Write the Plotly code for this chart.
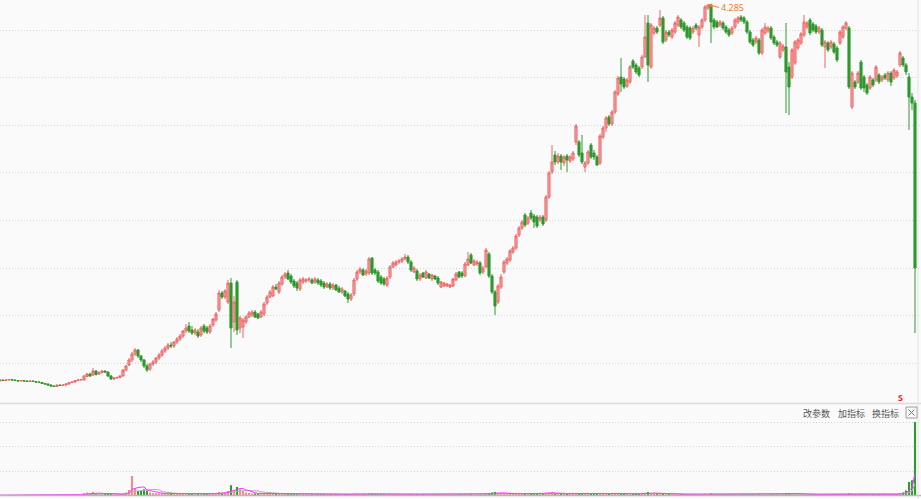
import plotly.graph_objects as go
import pandas as pd

# ---------------- data ----------------
opens = [
    .52, .53, .525, .53, .535, .53, .525, .52, .525, .52,
    .515, .52, .515, .51, .505, .495, .49, .48, .47, .465,
    .48, .475, .48, .49, .505, .51, .525, .53, .53, .565,
    .59, .58, .62, .59, .605, .62, .61, .57, .54, .55,
    .555, .57, .63, .68, .73, .79, .83, .77, .73, .67,
    .64, .69, .71, .75, .78, .82, .85, .88, .87, .91,
    .94, .97, 1.02, 1.07, 1.03, 1.00, 1.01, .98, 1.07, 1.05,
    1.01, 1.08, 1.13, 1.23, 1.40, 1.36, 1.31, 1.50, 1.11, 1.51,
    1.05, 1.06, 1.11, 1.16, 1.18, 1.21, 1.19, 1.16, 1.19, 1.30,
    1.36, 1.37, 1.46, 1.41, 1.49, 1.56, 1.60, 1.57, 1.52, 1.50,
    1.44, 1.51, 1.52, 1.53, 1.53, 1.51, 1.53, 1.52, 1.50, 1.46,
    1.49, 1.45, 1.48, 1.45, 1.41, 1.42, 1.39, 1.34, 1.39, 1.54,
    1.61, 1.63, 1.59, 1.60, 1.75, 1.63, 1.61, 1.56, 1.54, 1.48,
    1.56, 1.66, 1.68, 1.71, 1.72, 1.74, 1.76, 1.71, 1.61, 1.62,
    1.54, 1.60, 1.55, 1.59, 1.54, 1.57, 1.55, 1.46, 1.47, 1.47,
    1.46, 1.47, 1.53, 1.61, 1.60, 1.57, 1.68, 1.78, 1.68, 1.69,
    1.70, 1.61, 1.66, 1.79, 1.57, 1.41, 1.31, 1.46, 1.61, 1.70,
    1.73, 1.81, 1.85, 1.98, 2.05, 2.18, 2.10, 2.20, 2.17, 2.16,
    2.13, 2.16, 2.13, 2.36, 2.61, 2.78, 2.71, 2.77, 2.70, 2.77,
    2.72, 2.74, 2.91, 2.91, 2.80, 2.66, 2.70, 2.88, 2.80, 2.76,
    2.70, 2.96, 3.05, 3.16, 3.09, 3.21, 3.39, 3.56, 3.54, 3.47,
    3.51, 3.72, 3.68, 3.65, 3.66, 3.76, 4.10, 3.66, 4.00, 4.05,
    4.08, 4.15, 3.93, 4.01, 3.96, 4.01, 4.08, 4.13, 4.10, 4.06,
    4.05, 4.01, 4.08, 3.98, 4.06, 4.13, 4.25, 4.28, 4.13, 4.11,
    4.08, 4.10, 4.06, 4.03, 4.00, 4.06, 4.11, 4.16, 4.15, 4.11,
    4.01, 3.93, 3.91, 3.93, 3.80, 4.00, 4.02, 4.05, 3.96, 3.91,
    3.76, 3.83, 3.86, 3.66, 3.56, 3.70, 3.85, 3.90, 3.98, 4.06,
    4.13, 4.09, 4.07, 4.01, 4.03, 3.86, 3.90, 3.86, 3.89, 3.85,
    3.90, 3.96, 4.05, 4.05, 3.26, 3.51, 3.51, 3.71, 3.56, 3.48,
    3.45, 3.53, 3.53, 3.58, 3.53, 3.58, 3.53, 3.60, 3.55, 3.57,
    3.68, 3.75, 3.68, 3.56, 3.36, 3.30,
]

closes = [
    .53, .525, .53, .535, .53, .525, .52, .525, .52, .515,
    .52, .515, .51, .505, .495, .49, .48, .47, .465, .48,
    .475, .48, .49, .505, .51, .525, .53, .535, .57, .59,
    .57, .62, .585, .605, .62, .61, .57, .54, .55, .555,
    .57, .63, .67, .73, .79, .83, .77, .73, .67, .63,
    .69, .71, .75, .78, .82, .85, .88, .87, .91, .94,
    .97, 1.02, 1.05, 1.02, 1.00, 1.03, .97, 1.05, 1.02, 1.01,
    1.07, 1.14, 1.19, 1.40, 1.36, 1.42, 1.50, 1.05, 1.31, 1.03,
    1.15, 1.13, 1.16, 1.20, 1.21, 1.16, 1.15, 1.21, 1.29, 1.36,
    1.41, 1.46, 1.44, 1.50, 1.56, 1.59, 1.54, 1.51, 1.47, 1.45,
    1.53, 1.54, 1.53, 1.54, 1.50, 1.54, 1.50, 1.48, 1.46, 1.49,
    1.45, 1.48, 1.43, 1.41, 1.44, 1.37, 1.34, 1.38, 1.53, 1.61,
    1.64, 1.58, 1.62, 1.74, 1.60, 1.60, 1.52, 1.50, 1.49, 1.55,
    1.66, 1.70, 1.71, 1.72, 1.74, 1.76, 1.71, 1.63, 1.65, 1.54,
    1.58, 1.56, 1.61, 1.55, 1.58, 1.54, 1.50, 1.51, 1.50, 1.49,
    1.48, 1.54, 1.59, 1.56, 1.57, 1.69, 1.74, 1.70, 1.72, 1.71,
    1.60, 1.65, 1.83, 1.57, 1.41, 1.27, 1.47, 1.56, 1.71, 1.74,
    1.82, 1.85, 1.97, 2.05, 2.11, 2.08, 2.15, 2.15, 2.11, 2.07,
    2.16, 2.09, 2.36, 2.60, 2.71, 2.71, 2.77, 2.71, 2.76, 2.73,
    2.76, 2.80, 3.07, 2.78, 2.71, 2.70, 2.81, 2.76, 2.76, 2.68,
    2.97, 3.05, 3.15, 3.09, 3.21, 3.41, 3.55, 3.49, 3.46, 3.53,
    3.66, 3.66, 3.61, 3.58, 3.76, 3.96, 3.68, 4.08, 4.05, 4.01,
    4.15, 3.91, 4.01, 3.98, 4.03, 4.10, 4.16, 4.06, 4.03, 3.96,
    3.95, 4.05, 4.05, 4.06, 4.13, 4.26, 4.28, 4.11, 4.06, 4.06,
    4.11, 4.05, 4.01, 3.98, 4.05, 4.13, 4.15, 4.13, 4.11, 4.01,
    3.91, 3.88, 3.95, 3.80, 4.03, 4.06, 4.05, 3.95, 3.90, 3.88,
    3.90, 3.87, 3.61, 3.46, 3.83, 3.91, 3.93, 3.99, 4.11, 4.10,
    4.00, 4.03, 4.01, 4.05, 3.88, 3.91, 3.83, 3.91, 3.81, 3.73,
    4.01, 4.06, 4.10, 3.46, 3.60, 3.46, 3.60, 3.45, 3.45, 3.40,
    3.56, 3.48, 3.66, 3.51, 3.56, 3.55, 3.60, 3.51, 3.63, 3.61,
    3.80, 3.68, 3.61, 3.36, 3.30, 1.65,
]

highs = [
    .54, .535, .535, .54, .54, .535, .53, .53, .53, .525,
    .525, .525, .52, .515, .51, .50, .495, .485, .475, .485,
    .485, .485, .495, .51, .515, .53, .535, .54, .58, .60,
    .60, .65, .63, .615, .63, .625, .615, .58, .56, .565,
    .58, .64, .68, .75, .81, .85, .84, .78, .74, .69,
    .70, .73, .76, .80, .84, .87, .90, .91, .92, .96,
    .99, 1.03, 1.09, 1.11, 1.07, 1.05, 1.04, 1.07, 1.09, 1.07,
    1.09, 1.15, 1.21, 1.43, 1.42, 1.44, 1.53, 1.55, 1.37, 1.53,
    1.17, 1.15, 1.18, 1.22, 1.23, 1.23, 1.20, 1.23, 1.31, 1.38,
    1.43, 1.48, 1.49, 1.52, 1.58, 1.61, 1.63, 1.59, 1.54, 1.52,
    1.55, 1.56, 1.55, 1.56, 1.55, 1.56, 1.55, 1.54, 1.52, 1.51,
    1.51, 1.50, 1.49, 1.47, 1.46, 1.43, 1.41, 1.40, 1.55, 1.63,
    1.66, 1.65, 1.64, 1.76, 1.76, 1.65, 1.63, 1.58, 1.56, 1.57,
    1.68, 1.72, 1.73, 1.74, 1.76, 1.79, 1.78, 1.73, 1.67, 1.64,
    1.60, 1.61, 1.63, 1.60, 1.59, 1.58, 1.57, 1.52, 1.51, 1.50,
    1.49, 1.55, 1.61, 1.62, 1.62, 1.71, 1.81, 1.80, 1.74, 1.73,
    1.72, 1.67, 1.85, 1.81, 1.59, 1.43, 1.49, 1.59, 1.73, 1.76,
    1.84, 1.87, 1.99, 2.07, 2.13, 2.20, 2.17, 2.23, 2.19, 2.18,
    2.18, 2.18, 2.38, 2.62, 2.88, 2.82, 2.80, 2.79, 2.78, 2.79,
    2.78, 2.82, 3.09, 2.93, 2.98, 2.72, 2.83, 2.90, 2.83, 2.78,
    2.99, 3.07, 3.17, 3.18, 3.23, 3.43, 3.57, 3.75, 3.56, 3.55,
    3.68, 3.74, 3.70, 3.67, 3.78, 4.18, 4.18, 4.10, 4.07, 4.07,
    4.23, 4.17, 4.03, 4.03, 4.05, 4.12, 4.18, 4.15, 4.12, 4.08,
    4.07, 4.07, 4.10, 4.08, 4.15, 4.28, 4.285, 4.28, 4.15, 4.13,
    4.13, 4.12, 4.08, 4.05, 4.07, 4.15, 4.17, 4.18, 4.17, 4.13,
    4.03, 3.95, 3.97, 3.95, 4.05, 4.10, 4.07, 4.07, 3.98, 3.93,
    3.92, 3.89, 4.10, 3.71, 3.85, 3.93, 3.95, 4.01, 4.18, 4.12,
    4.15, 4.11, 4.09, 4.07, 4.05, 3.93, 3.92, 3.93, 3.91, 3.87,
    4.03, 4.08, 4.12, 4.07, 3.62, 3.53, 3.62, 3.73, 3.58, 3.50,
    3.58, 3.55, 3.68, 3.60, 3.58, 3.60, 3.62, 3.62, 3.65, 3.63,
    3.82, 3.77, 3.70, 3.60, 3.40, 3.33,
]

lows = [
    .515, .52, .52, .525, .525, .52, .515, .515, .515, .51,
    .51, .51, .505, .50, .49, .485, .475, .465, .46, .46,
    .47, .47, .475, .485, .50, .505, .52, .525, .525, .56,
    .56, .57, .575, .58, .595, .60, .56, .53, .53, .545,
    .545, .565, .62, .67, .71, .77, .75, .71, .65, .61,
    .62, .67, .69, .73, .76, .80, .83, .85, .85, .89,
    .92, .95, 1.00, 1.00, .98, .98, .95, .96, 1.00, .99,
    .99, 1.06, 1.11, 1.21, 1.34, 1.34, 1.29, .85, 1.01, .98,
    1.00, .95, 1.09, 1.15, 1.16, 1.15, 1.14, 1.15, 1.17, 1.28,
    1.35, 1.36, 1.43, 1.39, 1.47, 1.54, 1.53, 1.49, 1.45, 1.42,
    1.42, 1.49, 1.50, 1.51, 1.49, 1.49, 1.48, 1.46, 1.44, 1.45,
    1.43, 1.43, 1.42, 1.40, 1.39, 1.36, 1.30, 1.32, 1.37, 1.52,
    1.59, 1.57, 1.57, 1.58, 1.58, 1.58, 1.50, 1.48, 1.47, 1.46,
    1.54, 1.65, 1.67, 1.69, 1.70, 1.73, 1.69, 1.61, 1.60, 1.52,
    1.52, 1.55, 1.54, 1.54, 1.52, 1.53, 1.48, 1.45, 1.46, 1.46,
    1.45, 1.46, 1.52, 1.55, 1.55, 1.56, 1.67, 1.69, 1.67, 1.67,
    1.58, 1.59, 1.65, 1.55, 1.39, 1.18, 1.29, 1.44, 1.59, 1.68,
    1.71, 1.79, 1.83, 1.96, 2.03, 2.06, 2.08, 2.13, 2.05, 2.05,
    2.11, 2.07, 2.11, 2.34, 2.59, 2.68, 2.69, 2.63, 2.67, 2.61,
    2.70, 2.72, 2.88, 2.76, 2.69, 2.61, 2.68, 2.74, 2.73, 2.67,
    2.68, 2.94, 3.01, 3.07, 3.07, 3.19, 3.37, 3.41, 3.44, 3.45,
    3.49, 3.64, 3.59, 3.56, 3.64, 3.75, 3.51, 3.64, 3.98, 3.99,
    4.06, 3.89, 3.91, 3.96, 3.94, 3.99, 4.06, 4.04, 4.01, 3.94,
    3.93, 3.99, 4.03, 3.86, 4.04, 4.11, 4.23, 3.90, 4.04, 4.05,
    4.06, 4.03, 3.99, 3.96, 3.98, 4.04, 4.09, 4.11, 4.09, 3.99,
    3.89, 3.86, 3.89, 3.78, 3.78, 3.98, 4.00, 3.93, 3.88, 3.86,
    3.74, 3.81, 3.20, 3.18, 3.54, 3.68, 3.83, 3.88, 3.96, 4.04,
    3.98, 4.01, 3.99, 3.99, 3.86, 3.65, 3.81, 3.84, 3.79, 3.71,
    3.88, 3.94, 4.03, 3.44, 3.24, 3.44, 3.49, 3.43, 3.41, 3.38,
    3.43, 3.46, 3.51, 3.49, 3.51, 3.53, 3.51, 3.47, 3.53, 3.55,
    3.66, 3.66, 3.58, 3.03, 3.23, 1.00,
]

volumes = [
    1, 1, 1, 1, 1, 1, 1, 1, 1, 1,
    1, 1, 1, 1, 1, 1, 1, 1, 1, 1,
    1, 1, 2, 6, 2, 2, 3, 2, 10, 12,
    8, 14, 8, 7, 6, 5, 6, 5, 4, 4,
    5, 8, 12, 22, 80, 30, 18, 20, 26, 18,
    12, 10, 9, 8, 9, 8, 7, 6, 8, 8,
    7, 9, 8, 7, 6, 6, 6, 7, 6, 6,
    7, 8, 9, 14, 10, 10, 18, 42, 20, 35,
    26, 18, 12, 10, 8, 8, 7, 7, 9, 8,
    8, 8, 6, 7, 8, 7, 6, 6, 5, 5,
    6, 5, 5, 4, 5, 5, 4, 5, 5, 4,
    5, 4, 5, 5, 4, 5, 6, 5, 8, 7,
    6, 5, 5, 9, 8, 6, 6, 5, 5, 5,
    7, 6, 5, 5, 5, 6, 6, 7, 5, 6,
    5, 5, 5, 4, 5, 5, 6, 5, 4, 4,
    4, 5, 6, 5, 4, 7, 8, 7, 5, 5,
    6, 5, 10, 9, 12, 14, 10, 8, 8, 6,
    7, 6, 8, 7, 7, 8, 6, 7, 6, 7,
    6, 6, 11, 12, 14, 9, 7, 7, 6, 7,
    6, 6, 10, 9, 8, 7, 7, 8, 6, 6,
    9, 8, 8, 6, 7, 9, 9, 8, 6, 6,
    6, 7, 6, 6, 8, 11, 14, 10, 7, 6,
    7, 8, 6, 5, 5, 5, 6, 5, 5, 6,
    5, 5, 5, 6, 5, 7, 6, 8, 6, 5,
    5, 5, 4, 4, 5, 5, 5, 5, 6, 5,
    6, 5, 6, 7, 5, 5, 5, 4, 4, 5,
    6, 5, 9, 10, 7, 7, 6, 5, 6, 5,
    5, 5, 4, 4, 6, 6, 5, 5, 5, 5,
    6, 5, 5, 9, 10, 6, 6, 7, 6, 6,
    5, 5, 5, 5, 4, 4, 5, 5, 5, 5,
    10, 12, 20, 55, 62, 300,
]

menu_labels = ["改参数", "加指标", "换指标"]
high_label = "4.285"
signal_label = "S"

assert len(opens) == len(closes) == len(highs) == len(lows) == len(volumes)
idx = list(range(len(closes)))

# ---------------- styling ----------------
W, H = 921, 499
BG = "#fafafa"
UP_LINE = "#ee6666"
UP_FILL = "#f5a3a3"
DN = "#2e9a2e"
GRID = "#d4d4d4"
GRID_DASH = "1px,2px"


def px(xp):
    return xp / W


def py(yp):
    return 1 - yp / H


vol_colors = ["#f08c8c" if c >= o else DN for o, c in zip(opens, closes)]
vol_series = pd.Series(volumes, dtype=float)
ma5 = vol_series.rolling(5, min_periods=1).mean()
ma10 = vol_series.rolling(10, min_periods=1).mean()

fig = go.Figure()
fig.add_trace(go.Candlestick(
    x=idx, open=opens, high=highs, low=lows, close=closes,
    increasing=dict(line=dict(color=UP_LINE, width=1), fillcolor=UP_FILL),
    decreasing=dict(line=dict(color=DN, width=1), fillcolor=DN),
    whiskerwidth=0, xaxis="x", yaxis="y", showlegend=False,
))
fig.add_trace(go.Bar(
    x=idx, y=volumes, marker=dict(color=vol_colors, line=dict(width=0)),
    xaxis="x", yaxis="y2", showlegend=False,
))
fig.add_trace(go.Scatter(
    x=idx, y=ma10, mode="lines", line=dict(color="#b0b0b0", width=1),
    xaxis="x", yaxis="y2", showlegend=False,
))
fig.add_trace(go.Scatter(
    x=idx, y=ma5, mode="lines", line=dict(color="#ff33ff", width=1),
    xaxis="x", yaxis="y2", showlegend=False,
))

fig.update_layout(
    width=W, height=H,
    margin=dict(l=0, r=0, t=0, b=0),
    paper_bgcolor=BG, plot_bgcolor=BG,
    showlegend=False,
    bargap=0.3,
    boxgap=0.3, boxgroupgap=0,
    xaxis=dict(range=[0, 307], showgrid=False, zeroline=False,
               showticklabels=False, ticks="", showline=False,
               rangeslider=dict(visible=False), anchor="y"),
    yaxis=dict(domain=[96 / H, 1], range=[0.30, 4.33],
               tick0=4.03, dtick=0.476, showgrid=True, gridcolor=GRID,
               griddash=GRID_DASH, gridwidth=1, zeroline=False,
               showticklabels=False, ticks="", showline=False),
    yaxis2=dict(domain=[3.5 / H, 95 / H], range=[0, 373.5],
                tick0=0, dtick=100, showgrid=True, gridcolor=GRID,
                griddash=GRID_DASH, gridwidth=1, zeroline=False,
                showticklabels=False, ticks="", showline=False, anchor="x"),
)

shapes = [
    # separator between price and volume panels
    dict(type="line", xref="paper", yref="paper", x0=0, x1=1,
         y0=py(403.5), y1=py(403.5), line=dict(color="#dcdcdc", width=1.5)),
    # volume baseline
    dict(type="line", xref="paper", yref="paper", x0=0, x1=1,
         y0=py(495.5), y1=py(495.5), line=dict(color="#b8b8b8", width=1.5)),
    # right border
    dict(type="line", xref="paper", yref="paper", x0=px(918), x1=px(918),
         y0=0, y1=1, line=dict(color="#e4e4e4", width=1)),
    # close box
    dict(type="rect", xref="paper", yref="paper", x0=px(906), x1=px(917),
         y0=py(418), y1=py(407), line=dict(color="#9c9c9c", width=1),
         fillcolor=BG),
    dict(type="line", xref="paper", yref="paper", x0=px(908.5), x1=px(914.5),
         y0=py(409.5), y1=py(415.5), line=dict(color="#777777", width=1)),
    dict(type="line", xref="paper", yref="paper", x0=px(908.5), x1=px(914.5),
         y0=py(415.5), y1=py(409.5), line=dict(color="#777777", width=1)),
]
fig.update_layout(shapes=shapes)

annotations = []
for label, cx in zip(menu_labels, [816.5, 851, 885]):
    annotations.append(dict(
        text=label, xref="paper", yref="paper", x=px(cx), y=py(413),
        xanchor="center", yanchor="middle", showarrow=False,
        font=dict(family="Noto Sans CJK SC", size=9, color="#555555"),
    ))
annotations.append(dict(
    text=high_label, xref="x", yref="y", x=236, y=4.285,
    showarrow=True, ax=11, ay=3, arrowhead=2, arrowsize=0.8,
    arrowwidth=1, arrowcolor="#f07a35", xanchor="left", yanchor="middle",
    font=dict(family="Noto Sans", size=9, color="#f07a35"),
))
annotations.append(dict(
    text="<b>" + signal_label + "</b>", xref="paper", yref="paper",
    x=px(900.5), y=py(397.5), xanchor="center", yanchor="middle",
    showarrow=False, font=dict(family="Noto Sans", size=9, color="#ff1a1a"),
))
fig.update_layout(annotations=annotations)

fig.write_html(
    "out.html",
    config={"displayModeBar": False},
    post_script="document.body.style.margin='0';document.body.style.overflow='hidden';",
)
